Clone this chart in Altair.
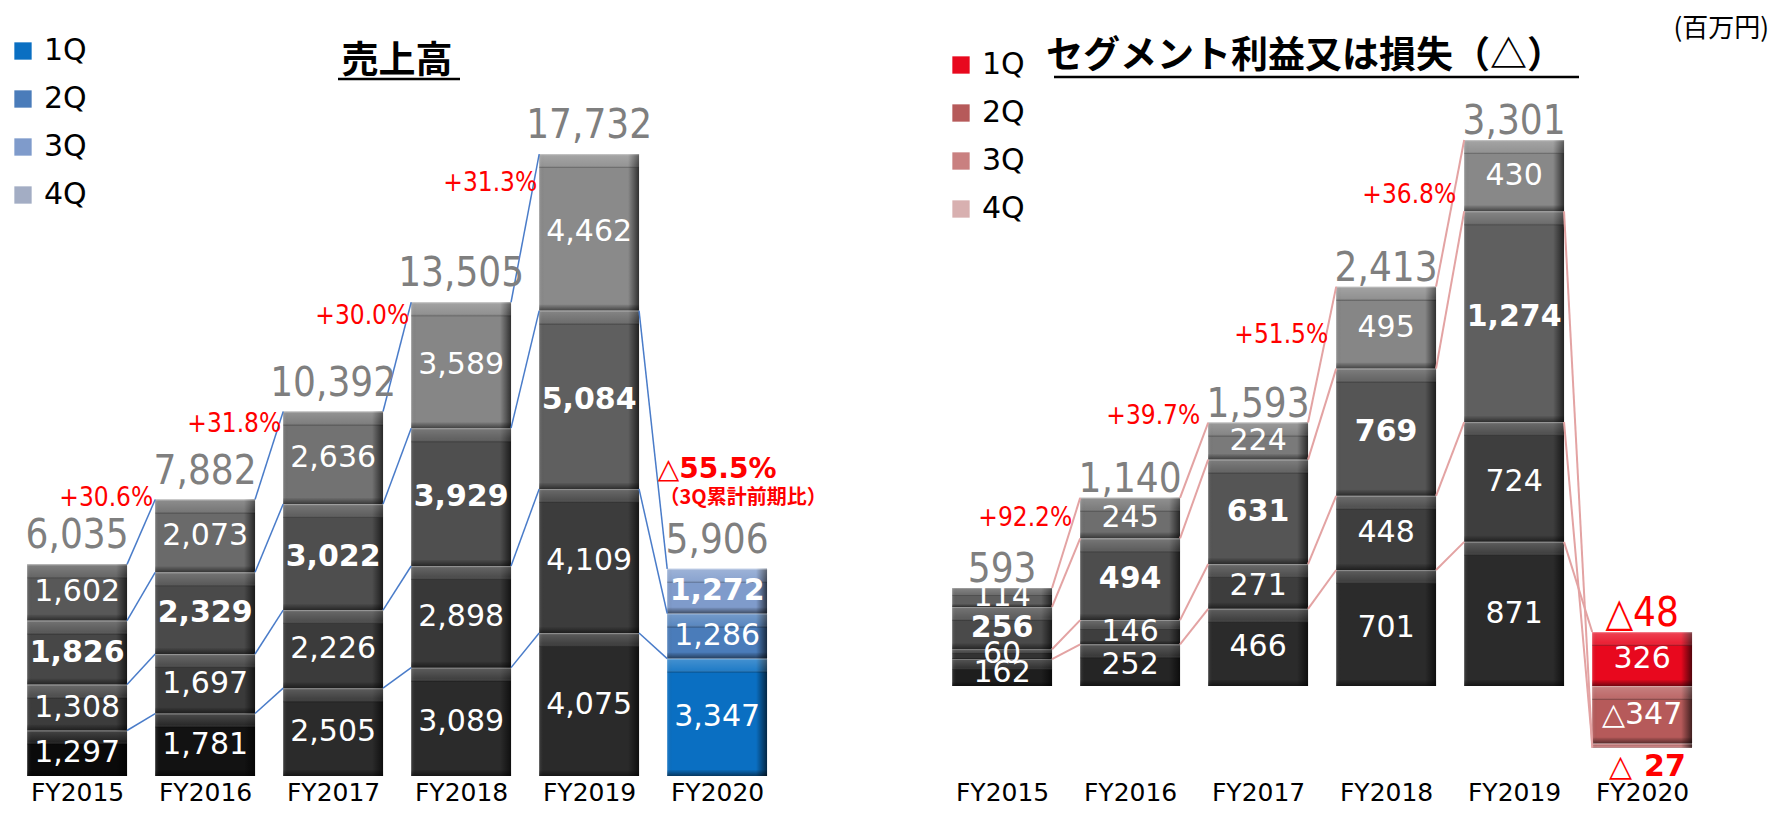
import json
import altair as alt
import pandas as pd

# ---------------- data ----------------
years = ["FY2015", "FY2016", "FY2017", "FY2018", "FY2019", "FY2020"]
quarters = ["1Q", "2Q", "3Q", "4Q"]

sales_1q = [1297, 1781, 2505, 3089, 4075, 3347]
sales_2q = [1308, 1697, 2226, 2898, 4109, 1286]
sales_3q = [1826, 2329, 3022, 3929, 5084, 1272]
sales_4q = [1602, 2073, 2636, 3589, 4462, None]
sales_total = [6035, 7882, 10392, 13505, 17732, 5906]
sales_growth = ["+30.6%", "+31.8%", "+30.0%", "+31.3%"]
sales_notes = ["△55.5%", "（3Q累計前期比）"]

profit_1q = [162, 252, 466, 701, 871, 326]
profit_2q = [60, 146, 271, 448, 724, -347]
profit_3q = [256, 494, 631, 769, 1274, -27]
profit_4q = [114, 245, 224, 495, 430, None]
profit_total = [593, 1140, 1593, 2413, 3301, -48]
profit_growth = ["+92.2%", "+39.7%", "+51.5%", "+36.8%"]

titles = ["売上高", "セグメント利益又は損失（△）"]
unit_text = "(百万円)"

# ---------------- style ----------------
FONT = "DejaVu Sans"
FONT_C = "DejaVu Sans Condensed, Liberation Sans Narrow, DejaVu Sans"
FONT_JP = "Noto Sans CJK JP"
STEP = 128.0
PLOT_H = 768
LEFT_W, RIGHT_W = 778, 840
X_START = -0.54
HALF = 0.39
SALES_YDOM = [0, 21893]
PROFIT_YDOM = [-544, 4097]

SALES_GRAYS = [
    ["#0a0a0a", "#3c3c3c", "#474747", "#585858"],
    ["#121212", "#3a3a3a", "#4a4a4a", "#6a6a6a"],
    ["#2b2b2b", "#3b3b3b", "#4e4e4e", "#727272"],
    ["#2b2b2b", "#383838", "#4f4f4f", "#868686"],
    ["#2a2a2a", "#3c3c3c", "#5f5f5f", "#8a8a8a"],
    None,
]
PROFIT_GRAYS = [
    ["#1e1e1e", "#333333", "#4a4a4a", "#5e5e5e"],
    ["#252525", "#3e3e3e", "#4d4d4d", "#6e6e6e"],
    ["#2b2b2b", "#3d3d3d", "#555555", "#7a7a7a"],
    ["#2b2b2b", "#3e3e3e", "#555555", "#868686"],
    ["#2b2b2b", "#3e3e3e", "#5f5f5f", "#888888"],
    None,
]
SALES_COLORS = ["#0a6fc2", "#4a7cba", "#7f9bcb", "#a3adc4"]
PROFIT_COLORS = ["#e8081e", "#b65a5a", "#c98080", "#d8b0b0"]


def fmt(v):
    return ("△" if v < 0 else "") + f"{abs(v):,}"


def build_segments(qvals, ydom, grays):
    ppu = PLOT_H / (ydom[1] - ydom[0])
    rows = []
    for i, yr in enumerate(years):
        pos = neg = 0
        for qi, q in enumerate(quarters):
            v = qvals[qi][i]
            if v is None:
                continue
            if v >= 0:
                s, e = pos, pos + v
                pos = e
            else:
                s, e = neg, neg + v
                neg = e
            hi, lo = max(s, e), min(s, e)
            hpx = (hi - lo) * ppu
            rows.append(dict(
                year=yr, idx=i, q=q, v=v, x0=i - HALF, x1=i + HALF,
                s=s, e=e, hi=hi, lo=lo, mid=(hi + lo) / 2,
                topb=hi - min(14, hpx * 0.4) / ppu,
                botb=lo + min(6, hpx * 0.15) / ppu,
                fill=grays[i][qi] if grays[i] else "#000000",
                label=fmt(v), bold=(q == "3Q"), cur=(i == len(years) - 1),
                show=bool(hpx >= 6),
            ))
    return pd.DataFrame(rows), ppu


def build_links(seg):
    rows = []
    for q in quarters:
        for i in range(len(years) - 1):
            a = seg[(seg.idx == i) & (seg.q == q)]
            b = seg[(seg.idx == i + 1) & (seg.q == q)]
            if len(a) == 0 or len(b) == 0:
                continue
            lid = f"{q}-{i}"
            rows.append(dict(lid=lid, x=i + HALF, y=float(a.e.iloc[0]), o=0))
            rows.append(dict(lid=lid, x=i + 1 - HALF, y=float(b.e.iloc[0]), o=1))
    return pd.DataFrame(rows)


def grad(stops, horizontal):
    return alt.LinearGradient(
        gradient="linear",
        stops=[alt.GradientStop(color=c, offset=o) for o, c in stops],
        x1=0, y1=0, x2=1 if horizontal else 0, y2=0 if horizontal else 1,
    )


SIDE = grad([(0, "rgba(255,255,255,0.12)"), (0.05, "rgba(0,0,0,0)"), (0.89, "rgba(0,0,0,0)"),
             (0.95, "rgba(0,0,0,0.35)"), (1, "rgba(0,0,0,0.65)")], True)
TOP = grad([(0, "rgba(255,255,255,0.55)"), (0.12, "rgba(255,255,255,0.22)"),
            (0.8, "rgba(255,255,255,0.10)"), (1, "rgba(0,0,0,0.35)")], False)
BOT = grad([(0, "rgba(0,0,0,0.05)"), (1, "rgba(0,0,0,0.5)")], False)


def panel(qvals, totals, growth, ydom, grays, colors, legend_xy, line_color, line_w,
          total_dy, growth_dy, growth_dx, extra, width):
    seg, ppu = build_segments(qvals, ydom, grays)
    links = build_links(seg)
    xs = alt.Scale(domain=[X_START, X_START + width / STEP], nice=False, zero=False)
    ys = alt.Scale(domain=ydom, nice=False, zero=False)
    xaxis = alt.Axis(values=list(range(len(years))),
                     labelExpr=json.dumps(years) + "[datum.value]",
                     domain=False, ticks=False, grid=False, title=None,
                     labelFont=FONT, labelFontSize=25, labelColor="#000000",
                     labelPadding=4, labelFlush=False, labelOverlap=False)

    def X(f):
        return alt.X(f, scale=xs, axis=xaxis)

    def Y(f):
        return alt.Y(f, scale=ys, axis=None)

    base = alt.Chart(seg)
    layers = []
    layers.append(base.transform_filter("!datum.cur").mark_rect().encode(
        x=X("x0:Q"), x2="x1", y=Y("s:Q"), y2="e", fill=alt.Fill("fill:N", scale=None)))
    layers.append(base.transform_filter("datum.cur").mark_rect().encode(
        x=X("x0:Q"), x2="x1", y=Y("s:Q"), y2="e",
        color=alt.Color("q:N", scale=alt.Scale(domain=quarters, range=colors),
                        legend=alt.Legend(orient="none", legendX=legend_xy[0], legendY=legend_xy[1],
                                          title=None, symbolType="square", symbolSize=300,
                                          symbolStrokeWidth=0, labelFont=FONT, labelFontSize=30,
                                          labelColor="#000000", rowPadding=18, labelOffset=6,
                                          padding=0))))
    layers.append(base.mark_rect(fill=SIDE).encode(x=X("x0:Q"), x2="x1", y=Y("s:Q"), y2="e"))
    layers.append(base.mark_rect(fill=TOP).encode(x=X("x0:Q"), x2="x1", y=Y("hi:Q"), y2="topb"))
    layers.append(base.mark_rect(fill=BOT).encode(x=X("x0:Q"), x2="x1", y=Y("botb:Q"), y2="lo"))
    layers.append(alt.Chart(links).mark_line(color=line_color, strokeWidth=line_w).encode(
        x=X("x:Q"), y=Y("y:Q"), detail="lid:N", order="o:Q"))
    # inner labels
    layers.append(base.transform_filter("datum.show && !datum.bold").mark_text(
        font=FONT, fontSize=30, color="white", baseline="middle").encode(
        x=X("idx:Q"), y=Y("mid:Q"), text="label:N"))
    layers.append(base.transform_filter("datum.show && datum.bold").mark_text(
        font=FONT, fontSize=30, fontWeight="bold", color="white", baseline="middle").encode(
        x=X("idx:Q"), y=Y("mid:Q"), text="label:N"))
    # totals
    tops = seg.groupby("idx")["hi"].max()
    tdf = pd.DataFrame(dict(idx=list(range(len(years))), top=[float(tops[i]) for i in range(len(years))],
                            label=[fmt(t) for t in totals],
                            tc=["#ff0000" if t < 0 else "#7f7f7f" for t in totals]))
    layers.append(alt.Chart(tdf).mark_text(font=FONT_C, fontSize=40, baseline="alphabetic", dy=total_dy).encode(
        x=X("idx:Q"), y=Y("top:Q"), text="label:N", color=alt.Color("tc:N", scale=None)))
    # growth labels
    gdf = pd.DataFrame(dict(x=[i + 1 - HALF for i in range(len(growth))],
                            y=[float(tops[i + 1]) - growth_dy[i] / ppu for i in range(len(growth))],
                            label=growth))
    layers.append(alt.Chart(gdf).mark_text(font=FONT_C, fontSize=26, color="#ff0000", align="right",
                                           baseline="middle", dx=growth_dx).encode(
        x=X("x:Q"), y=Y("y:Q"), text="label:N"))
    for make in extra:
        layers.append(make(seg, tdf, X, Y))
    return alt.layer(*layers).properties(width=width, height=PLOT_H)


def title_layers(text, cx, cy, ux0, ux1, uy):
    t = alt.Chart(pd.DataFrame({"t": [text]})).mark_text(
        font=FONT_JP, fontSize=37, fontWeight="bold", color="#000000", baseline="middle").encode(
        text="t:N", x=alt.value(cx), y=alt.value(cy))
    u = alt.Chart(pd.DataFrame({"t": [text]})).mark_rule(color="#000000", strokeWidth=2.5).encode(
        x=alt.value(ux0), x2=alt.value(ux1), y=alt.value(uy))
    return [t, u]


def sales_extra():
    def note1(seg, tdf, X, Y):
        d = tdf[tdf.idx == len(years) - 1].assign(n=sales_notes[0])
        return alt.Chart(d).mark_text(font=FONT, fontSize=28, fontWeight="bold", color="#ff0000",
                                      baseline="middle", dy=-99).encode(x=X("idx:Q"), y=Y("top:Q"), text="n:N")

    def note2(seg, tdf, X, Y):
        d = tdf[tdf.idx == len(years) - 1].assign(n=sales_notes[1])
        return alt.Chart(d).mark_text(font=FONT_JP, fontSize=20, fontWeight="bold", color="#ff0000",
                                      baseline="middle", dy=-71, dx=26).encode(x=X("idx:Q"), y=Y("top:Q"), text="n:N")

    def ttl(seg, tdf, X, Y):
        return alt.layer(*title_layers(titles[0], 389, 54, 330, 452, 71))

    return [note1, note2, ttl]


def profit_extra():
    def neg_tri(seg, tdf, X, Y):
        d = seg[seg.idx == len(years) - 1]
        d = pd.DataFrame(dict(idx=[len(years) - 1], bot=[float(d.lo.min())], n=["△"]))
        return alt.Chart(d).mark_text(font=FONT, fontSize=30, color="#ff0000", baseline="top",
                                      align="right", dx=-10, dy=4).encode(x=X("idx:Q"), y=Y("bot:Q"), text="n:N")

    def neg_num(seg, tdf, X, Y):
        d = seg[seg.idx == len(years) - 1]
        d = pd.DataFrame(dict(idx=[len(years) - 1], bot=[float(d.lo.min())], n=[f"{abs(profit_3q[-1])}"]))
        return alt.Chart(d).mark_text(font=FONT, fontSize=30, fontWeight="bold", color="#ff0000",
                                      baseline="top", align="left", dx=2, dy=4).encode(
            x=X("idx:Q"), y=Y("bot:Q"), text="n:N")

    def ttl(seg, tdf, X, Y):
        unit = alt.Chart(pd.DataFrame({"t": [unit_text]})).mark_text(
            font=FONT_JP, fontSize=26, color="#000000", align="right", baseline="middle").encode(
            text="t:N", x=alt.value(RIGHT_W - 4), y=alt.value(21))
        return alt.layer(*title_layers(titles[1], 372, 49, 121, 646, 69), unit)

    return [neg_tri, neg_num, ttl]


left = panel([sales_1q, sales_2q, sales_3q, sales_4q], sales_total, sales_growth, SALES_YDOM,
             SALES_GRAYS, SALES_COLORS, (0, 28), "#4a7cc9", 1.5, -16, [-2, 12, 14, 29], -2,
             sales_extra(), LEFT_W)
right = panel([profit_1q, profit_2q, profit_3q, profit_4q], profit_total, profit_growth, PROFIT_YDOM,
              PROFIT_GRAYS, PROFIT_COLORS, (13, 42), "#e3a3a3", 2, -6, [20, -7, 48, 55], -8,
              profit_extra(), RIGHT_W)

chart = alt.hconcat(left, right, spacing=147, bounds="flush").resolve_scale(color="independent").properties(
    padding=0, background="white"
).configure_view(stroke=None)

chart.save("out.html", embed_options={"renderer": "svg", "actions": False})
